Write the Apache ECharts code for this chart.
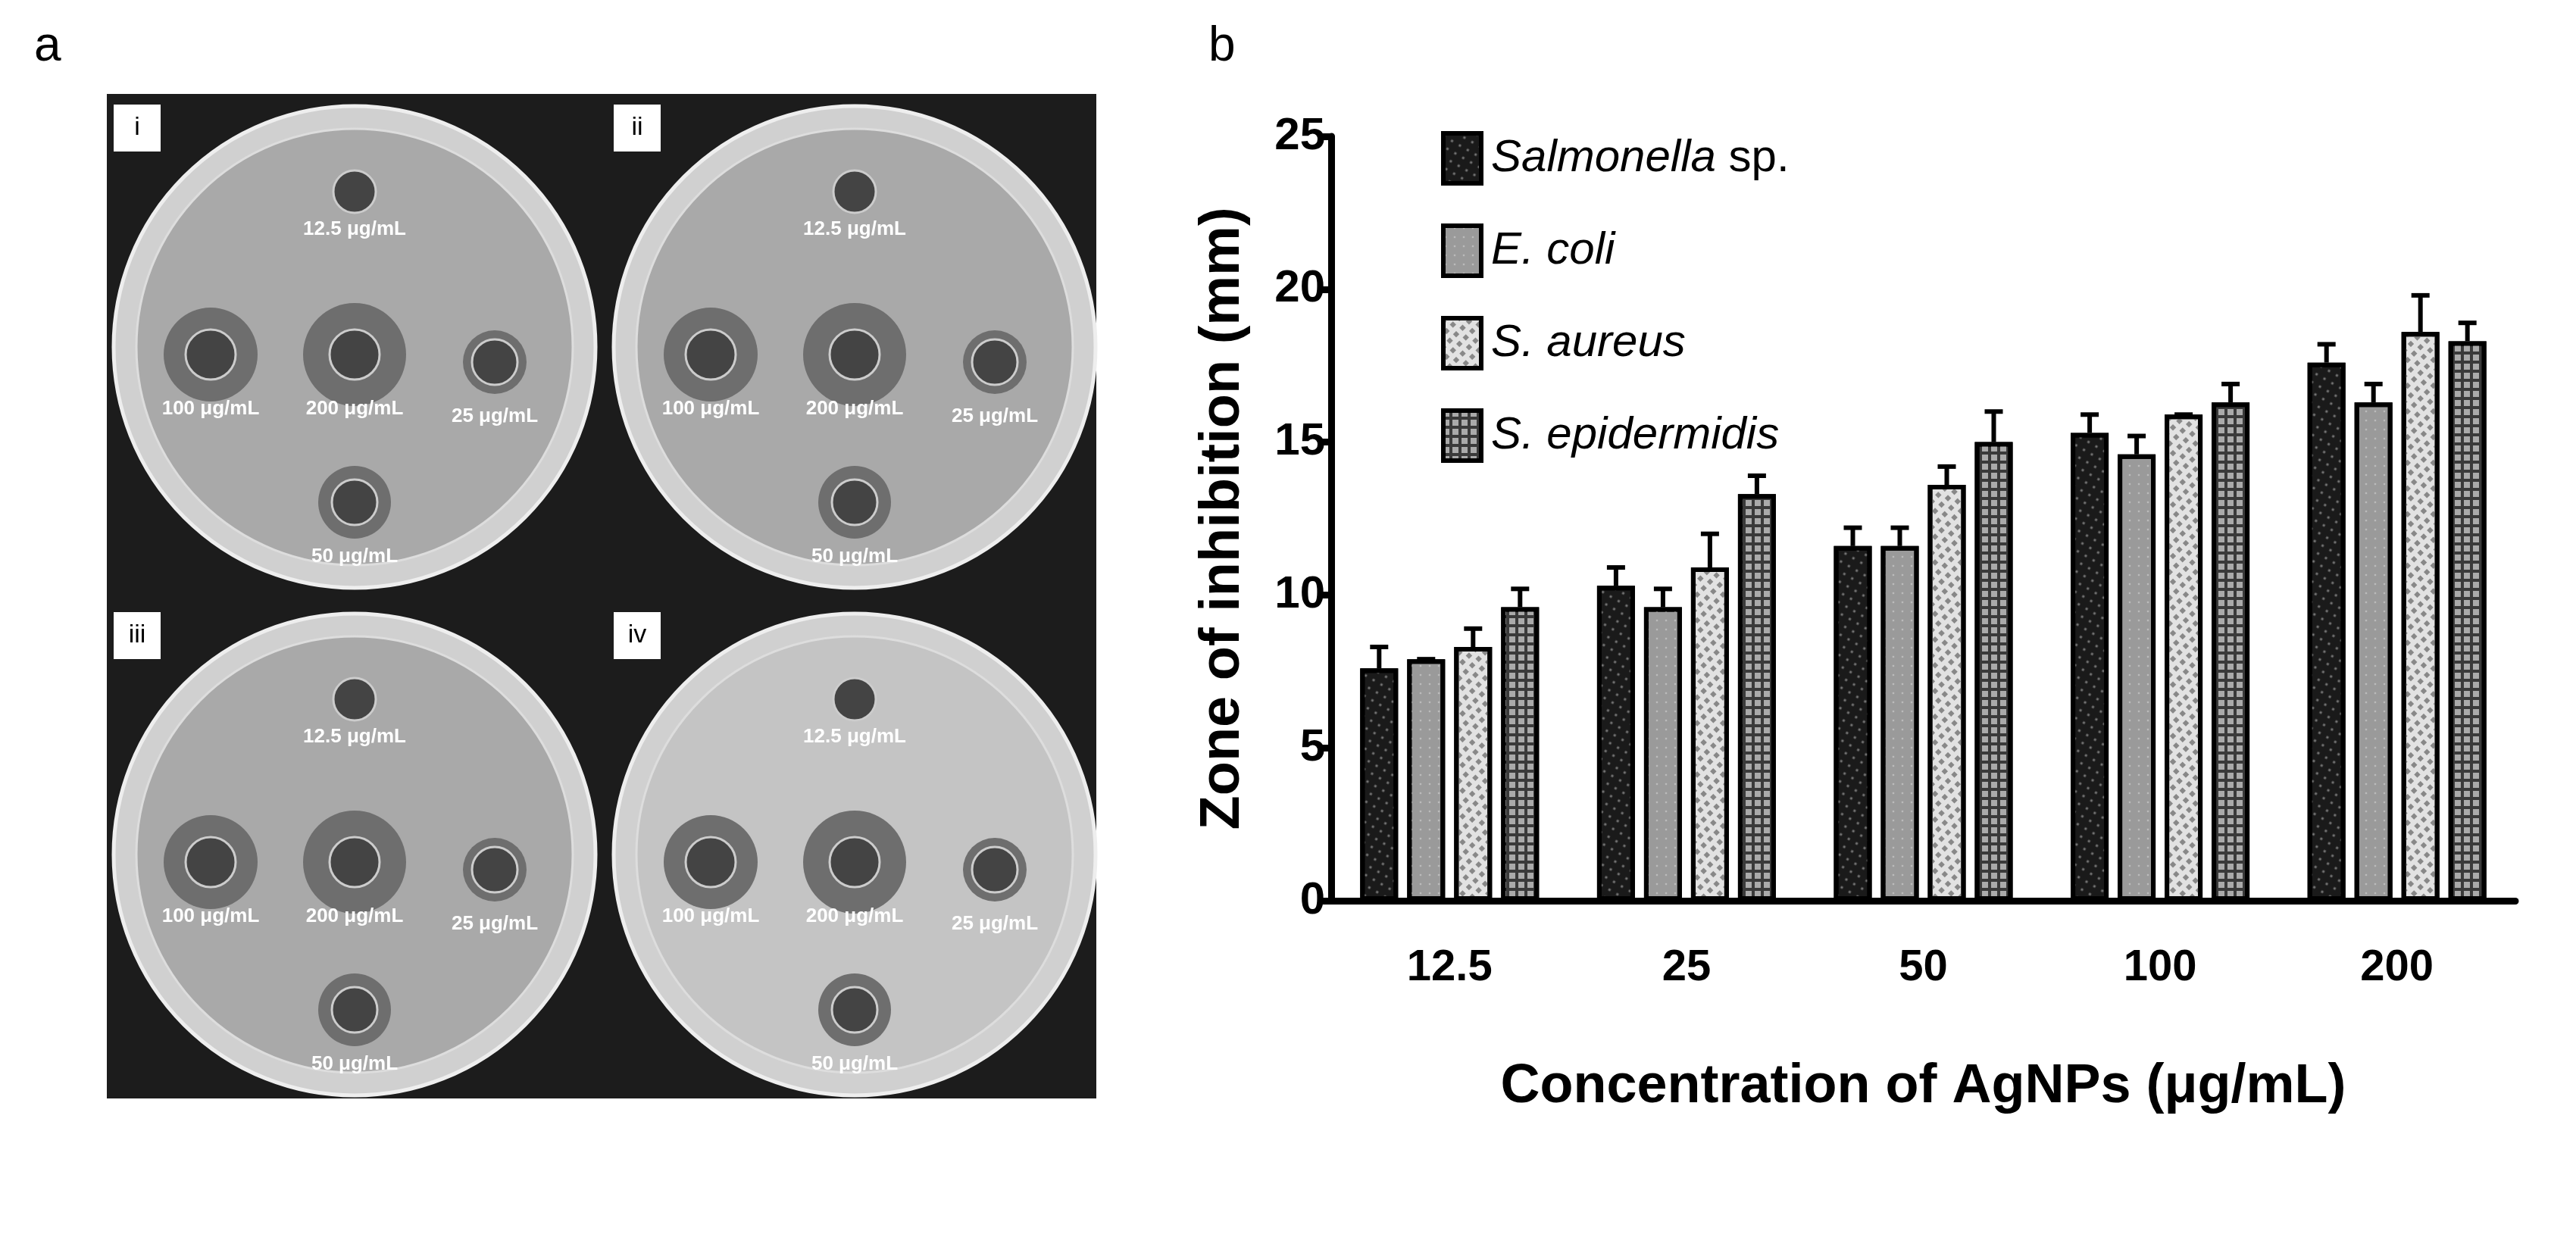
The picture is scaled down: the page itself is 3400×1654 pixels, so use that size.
<!DOCTYPE html>
<html>
<head>
<meta charset="utf-8">
<script src="https://cdn.jsdelivr.net/npm/echarts@6/dist/echarts.min.js"></script>
<style>html,body{margin:0;background:#fff}#main{width:3400px;height:1654px}</style>
</head>
<body>
<div id="main"></div>
<script>
//Data
let categories = ['12.5', '25', '50', '100', '200'];
let seriesNames = ['Salmonella sp.', 'E. coli', 'S. aureus', 'S. epidermidis'];
let salmonella = [7.6, 10.3, 11.6, 15.3, 17.6];
let salmonellaErr = [0.7, 0.6, 0.6, 0.6, 0.6];
let ecoli = [7.9, 9.6, 11.6, 14.6, 16.3];
let ecoliErr = [0, 0.6, 0.6, 0.6, 0.6];
let aureus = [8.3, 10.9, 13.6, 15.9, 18.6];
let aureusErr = [0.6, 1.1, 0.6, 0, 1.2];
let epidermidis = [9.6, 13.3, 15.0, 16.3, 18.3];
let epidermidisErr = [0.6, 0.6, 1.0, 0.6, 0.6];
let yTicks = [0, 5, 10, 15, 20, 25];

let values = [salmonella, ecoli, aureus, epidermidis];
let errors = [salmonellaErr, ecoliErr, aureusErr, epidermidisErr];
let fills = ['#1a1a1a', '#9a9a9a', '#e2e2e2', '#3a3a3a'];
let decals = [
	{symbol: 'rect', symbolSize: 0.5, dashArrayX: [6, 6], dashArrayY: [6, 6], color: '#777'},
	{symbol: 'rect', symbolSize: 0.4, dashArrayX: [6, 6], dashArrayY: [6, 6], color: '#bbb'},
	{symbol: 'rect', symbolSize: 1, dashArrayX: [[6, 6], [0, 6, 6, 0]], dashArrayY: [6, 6], color: '#888'},
	{symbol: 'rect', symbolSize: 1, dashArrayX: [8, 4], dashArrayY: [8, 4], color: '#aaa'}
];

const barWidth = 50, barStep = 62;

let chart = echarts.init(document.getElementById('main'));

//Panel a: rough sketch of the four plates
let plateCenters = [[468, 458], [1128, 458], [468, 1128], [1128, 1128]];
let plateTags = ['i', 'ii', 'iii', 'iv'];
let wells = [
	{dx: 0, dy: -205, r: 28, z: 0, t: '12.5 μg/mL'},
	{dx: -190, dy: 10, r: 33, z: 62, t: '100 μg/mL'},
	{dx: 0, dy: 10, r: 33, z: 68, t: '200 μg/mL'},
	{dx: 185, dy: 20, r: 30, z: 42, t: '25 μg/mL'},
	{dx: 0, dy: 205, r: 30, z: 48, t: '50 μg/mL'}
];
let graphics = [
	{type: 'text', left: 45, top: 30, style: {text: 'a', font: '64px Arial', fill: '#000'}},
	{type: 'text', left: 1595, top: 30, style: {text: 'b', font: '64px Arial', fill: '#000'}},
	{type: 'rect', shape: {x: 141, y: 124, width: 1306, height: 1326}, style: {fill: '#1c1c1c'}}
];
plateCenters.forEach(function(c, i){
	graphics.push({type: 'circle', shape: {cx: c[0], cy: c[1], r: 318}, style: {fill: '#d0d0d0', stroke: '#eee', lineWidth: 5}});
	graphics.push({type: 'circle', shape: {cx: c[0], cy: c[1], r: 288}, style: {fill: i === 3 ? '#c4c4c4' : '#a9a9a9', stroke: '#ddd', lineWidth: 3}});
	wells.forEach(function(w){
		if (w.z > 0) graphics.push({type: 'circle', shape: {cx: c[0] + w.dx, cy: c[1] + w.dy, r: w.z}, style: {fill: '#6e6e6e'}});
		graphics.push({type: 'circle', shape: {cx: c[0] + w.dx, cy: c[1] + w.dy, r: w.r}, style: {fill: '#444', stroke: '#ccc', lineWidth: 3}});
		graphics.push({type: 'text', x: c[0] + w.dx, y: c[1] + w.dy + (w.dy < -100 ? 50 : 72), style: {text: w.t, font: 'bold 26px Arial', fill: '#fff', align: 'center', verticalAlign: 'middle'}});
	});
	graphics.push({type: 'rect', shape: {x: c[0] - 318, y: c[1] - 320, width: 62, height: 62}, style: {fill: '#fff'}});
	graphics.push({type: 'text', x: c[0] - 287, y: c[1] - 289, style: {text: plateTags[i], font: '34px Arial', fill: '#000', align: 'center', verticalAlign: 'middle'}});
});

let series = [];
values.forEach(function(v, i){
	series.push({
		name: seriesNames[i],
		type: 'bar',
		data: v,
		barWidth: barWidth,
		barGap: '24%',
		itemStyle: {color: fills[i], borderColor: '#000', borderWidth: 6, decal: decals[i]}
	});
});
values.forEach(function(v, i){
	series.push({
		type: 'custom',
		name: seriesNames[i],
		z: 1,
		data: v.map(function(val, k){ return [k, val, errors[i][k]]; }),
		renderItem: function(params, api){
			let base = api.coord([api.value(0), api.value(1)]);
			let top = api.coord([api.value(0), api.value(1) + api.value(2)]);
			let x = base[0] + (i - 1.5) * barStep;
			return {type: 'group', children: [
				{type: 'line', shape: {x1: x, y1: base[1], x2: x, y2: top[1]}, style: {stroke: '#000', lineWidth: 6}},
				{type: 'line', shape: {x1: x - 12, y1: top[1], x2: x + 12, y2: top[1]}, style: {stroke: '#000', lineWidth: 6}}
			]};
		}
	});
});

let option = {
	animation: false,
	aria: {enabled: true, decal: {show: true}},
	graphic: graphics,
	grid: {left: 1757, top: 180, right: 80, bottom: 465},
	legend: {
		data: seriesNames,
		icon: 'rect',
		orient: 'vertical',
		left: 1897,
		top: 168,
		itemWidth: 50,
		itemHeight: 66,
		itemGap: 50,
		itemStyle: {borderColor: '#000', borderWidth: 6},
		textStyle: {fontSize: 60, fontFamily: 'Arial', color: '#000', fontStyle: 'italic', padding: [0, 0, 0, 8],
			rich: {n: {fontSize: 60, fontFamily: 'Arial', fontStyle: 'normal'}}},
		formatter: function(name){
			return name === 'Salmonella sp.' ? 'Salmonella{n| sp.}' : name;
		}
	},
	xAxis: {
		type: 'category',
		data: categories,
		name: 'Concentration of AgNPs (μg/mL)',
		nameLocation: 'middle',
		nameGap: 210,
		nameTextStyle: {fontSize: 72, fontWeight: 'bold', fontFamily: 'Arial', color: '#000'},
		axisLine: {lineStyle: {color: '#000', width: 9}},
		axisTick: {alignWithLabel: true, length: 30, lineStyle: {width: 9, color: '#000'}},
		axisLabel: {fontSize: 58, fontWeight: 'bold', fontFamily: 'Arial', color: '#000', margin: 60}
	},
	yAxis: {
		type: 'value',
		min: yTicks[0],
		max: yTicks[yTicks.length - 1],
		interval: 5,
		name: 'Zone of inhibition (mm)',
		nameLocation: 'middle',
		nameGap: 105,
		nameTextStyle: {fontSize: 74, fontWeight: 'bold', fontFamily: 'Arial', color: '#000'},
		splitLine: {show: false},
		axisLine: {show: true, lineStyle: {color: '#000', width: 9}},
		axisTick: {show: true, length: 16, lineStyle: {width: 9, color: '#000'}},
		axisLabel: {fontSize: 60, fontWeight: 'bold', fontFamily: 'Arial', color: '#000', margin: 8}
	},
	series: series
};

chart.setOption(option);
</script>
</body>
</html>
